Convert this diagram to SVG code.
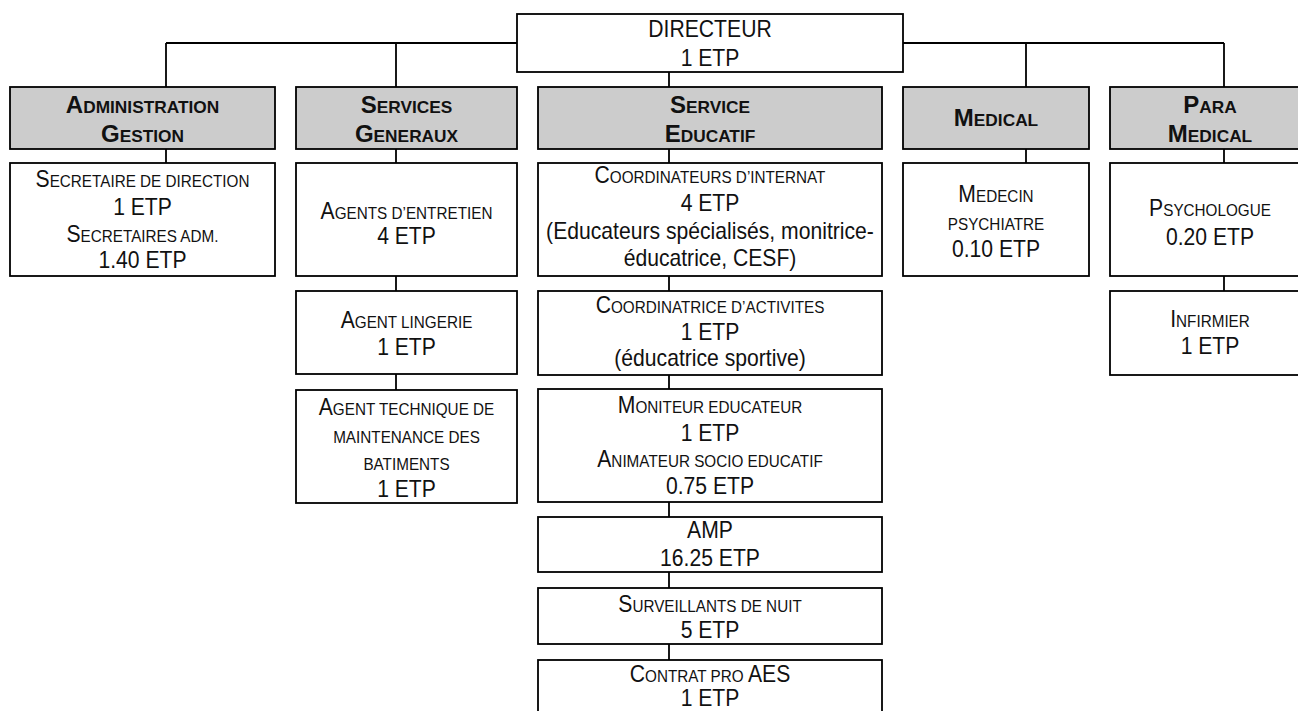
<svg xmlns="http://www.w3.org/2000/svg" width="1298" height="711" viewBox="0 0 1298 711">
<style>
  .bx { fill: #ffffff; stroke: #000000; stroke-width: 1.8; }
  .hd { fill: #cccccc; stroke: #000000; stroke-width: 1.8; }
  .cn line { stroke: #000000; stroke-width: 1.8; }
  text { font-family: "Liberation Sans", Arial, sans-serif; font-size: 23px; fill: #111111; text-anchor: middle; }
  .s { font-size: 16.6px; }
  .h text { font-weight: bold; font-size: 24px; }
  .h .s { font-size: 17.3px; }
</style>
<rect width="1298" height="711" fill="#ffffff"/>
<g id="connectors" class="cn">
  <line x1="166" y1="43" x2="1224" y2="43"/>
  <line x1="166" y1="43" x2="166" y2="87"/>
  <line x1="396" y1="43" x2="396" y2="87"/>
  <line x1="1026" y1="43" x2="1026" y2="87"/>
  <line x1="1224" y1="43" x2="1224" y2="87"/>
  <line x1="669" y1="72" x2="669" y2="87"/>
  <line x1="166" y1="149" x2="166" y2="163"/>
  <line x1="396" y1="149" x2="396" y2="163"/>
  <line x1="669" y1="149" x2="669" y2="163"/>
  <line x1="1026" y1="149" x2="1026" y2="163"/>
  <line x1="1224" y1="149" x2="1224" y2="163"/>
  <line x1="396" y1="276" x2="396" y2="291"/>
  <line x1="396" y1="374" x2="396" y2="390"/>
  <line x1="669" y1="276" x2="669" y2="291"/>
  <line x1="669" y1="375" x2="669" y2="389"/>
  <line x1="669" y1="502" x2="669" y2="517"/>
  <line x1="669" y1="572" x2="669" y2="588"/>
  <line x1="669" y1="644" x2="669" y2="660"/>
  <line x1="1224" y1="276" x2="1224" y2="291"/>
</g>

<g id="directeur">
  <rect class="bx" x="517" y="14" width="386" height="58"/>
  <g transform="translate(710,0) scale(0.92,1)">
    <text x="0" y="37">DIRECTEUR</text>
    <text x="0" y="66">1 ETP</text>
  </g>
</g>

<g id="hdr-administration" class="h">
  <rect class="hd" x="10" y="87" width="265" height="62"/>
  <g transform="translate(142.5,0)">
    <text x="0" y="113">A<tspan class="s">DMINISTRATION</tspan></text>
    <text x="0" y="142">G<tspan class="s">ESTION</tspan></text>
  </g>
</g>
<g id="hdr-services-generaux" class="h">
  <rect class="hd" x="296" y="87" width="221" height="62"/>
  <g transform="translate(406.5,0)">
    <text x="0" y="113">S<tspan class="s">ERVICES</tspan></text>
    <text x="0" y="142">G<tspan class="s">ENERAUX</tspan></text>
  </g>
</g>
<g id="hdr-service-educatif" class="h">
  <rect class="hd" x="538" y="87" width="344" height="62"/>
  <g transform="translate(710,0)">
    <text x="0" y="113">S<tspan class="s">ERVICE</tspan></text>
    <text x="0" y="142">E<tspan class="s">DUCATIF</tspan></text>
  </g>
</g>
<g id="hdr-medical" class="h">
  <rect class="hd" x="903" y="87" width="186" height="62"/>
  <g transform="translate(996,0)">
    <text x="0" y="126">M<tspan class="s">EDICAL</tspan></text>
  </g>
</g>
<g id="hdr-para-medical" class="h">
  <rect class="hd" x="1110" y="87" width="200" height="62"/>
  <g transform="translate(1210,0)">
    <text x="0" y="113">P<tspan class="s">ARA</tspan></text>
    <text x="0" y="142">M<tspan class="s">EDICAL</tspan></text>
  </g>
</g>

<g id="secretaires">
  <rect class="bx" x="10" y="163" width="265" height="113"/>
  <g transform="translate(142.5,0) scale(0.92,1)">
    <text x="0" y="187">S<tspan class="s">ECRETAIRE DE DIRECTION</tspan></text>
    <text x="0" y="215">1 ETP</text>
    <text x="0" y="242">S<tspan class="s">ECRETAIRES ADM.</tspan></text>
    <text x="0" y="268">1.40 ETP</text>
  </g>
</g>

<g id="agents-entretien">
  <rect class="bx" x="296" y="163" width="221" height="113"/>
  <g transform="translate(406.5,0) scale(0.92,1)">
    <text x="0" y="219">A<tspan class="s">GENTS D’ENTRETIEN</tspan></text>
    <text x="0" y="244">4 ETP</text>
  </g>
</g>
<g id="agent-lingerie">
  <rect class="bx" x="296" y="291" width="221" height="83"/>
  <g transform="translate(406.5,0) scale(0.92,1)">
    <text x="0" y="328">A<tspan class="s">GENT LINGERIE</tspan></text>
    <text x="0" y="355">1 ETP</text>
  </g>
</g>
<g id="agent-technique">
  <rect class="bx" x="296" y="390" width="221" height="113"/>
  <g transform="translate(406.5,0) scale(0.92,1)">
    <text x="0" y="415">A<tspan class="s">GENT TECHNIQUE DE</tspan></text>
    <text x="0" y="443"><tspan class="s">MAINTENANCE DES</tspan></text>
    <text x="0" y="470"><tspan class="s">BATIMENTS</tspan></text>
    <text x="0" y="497">1 ETP</text>
  </g>
</g>

<g id="coordinateurs-internat">
  <rect class="bx" x="538" y="163" width="344" height="113"/>
  <g transform="translate(710,0) scale(0.92,1)">
    <text x="0" y="183">C<tspan class="s">OORDINATEURS D’INTERNAT</tspan></text>
    <text x="0" y="211">4 ETP</text>
    <text x="0" y="239">(Educateurs spécialisés, monitrice-</text>
    <text x="0" y="266">éducatrice, CESF)</text>
  </g>
</g>
<g id="coordinatrice-activites">
  <rect class="bx" x="538" y="291" width="344" height="84"/>
  <g transform="translate(710,0) scale(0.92,1)">
    <text x="0" y="313">C<tspan class="s">OORDINATRICE D’ACTIVITES</tspan></text>
    <text x="0" y="340">1 ETP</text>
    <text x="0" y="366">(éducatrice sportive)</text>
  </g>
</g>
<g id="moniteur-animateur">
  <rect class="bx" x="538" y="389" width="344" height="113"/>
  <g transform="translate(710,0) scale(0.92,1)">
    <text x="0" y="413">M<tspan class="s">ONITEUR EDUCATEUR</tspan></text>
    <text x="0" y="441">1 ETP</text>
    <text x="0" y="467">A<tspan class="s">NIMATEUR SOCIO EDUCATIF</tspan></text>
    <text x="0" y="494">0.75 ETP</text>
  </g>
</g>
<g id="amp">
  <rect class="bx" x="538" y="517" width="344" height="55"/>
  <g transform="translate(710,0) scale(0.92,1)">
    <text x="0" y="538">AMP</text>
    <text x="0" y="566">16.25 ETP</text>
  </g>
</g>
<g id="surveillants">
  <rect class="bx" x="538" y="588" width="344" height="56"/>
  <g transform="translate(710,0) scale(0.92,1)">
    <text x="0" y="612">S<tspan class="s">URVEILLANTS DE NUIT</tspan></text>
    <text x="0" y="638">5 ETP</text>
  </g>
</g>
<g id="contrat-pro">
  <rect class="bx" x="538" y="660" width="344" height="70"/>
  <g transform="translate(710,0) scale(0.92,1)">
    <text x="0" y="682">C<tspan class="s">ONTRAT PRO </tspan>AES</text>
    <text x="0" y="706">1 ETP</text>
  </g>
</g>

<g id="medecin">
  <rect class="bx" x="903" y="163" width="186" height="113"/>
  <g transform="translate(996,0) scale(0.92,1)">
    <text x="0" y="202">M<tspan class="s">EDECIN</tspan></text>
    <text x="0" y="230"><tspan class="s">PSYCHIATRE</tspan></text>
    <text x="0" y="257">0.10 ETP</text>
  </g>
</g>

<g id="psychologue">
  <rect class="bx" x="1110" y="163" width="200" height="113"/>
  <g transform="translate(1210,0) scale(0.92,1)">
    <text x="0" y="216">P<tspan class="s">SYCHOLOGUE</tspan></text>
    <text x="0" y="245">0.20 ETP</text>
  </g>
</g>
<g id="infirmier">
  <rect class="bx" x="1110" y="291" width="200" height="84"/>
  <g transform="translate(1210,0) scale(0.92,1)">
    <text x="0" y="327">I<tspan class="s">NFIRMIER</tspan></text>
    <text x="0" y="354">1 ETP</text>
  </g>
</g>
</svg>
